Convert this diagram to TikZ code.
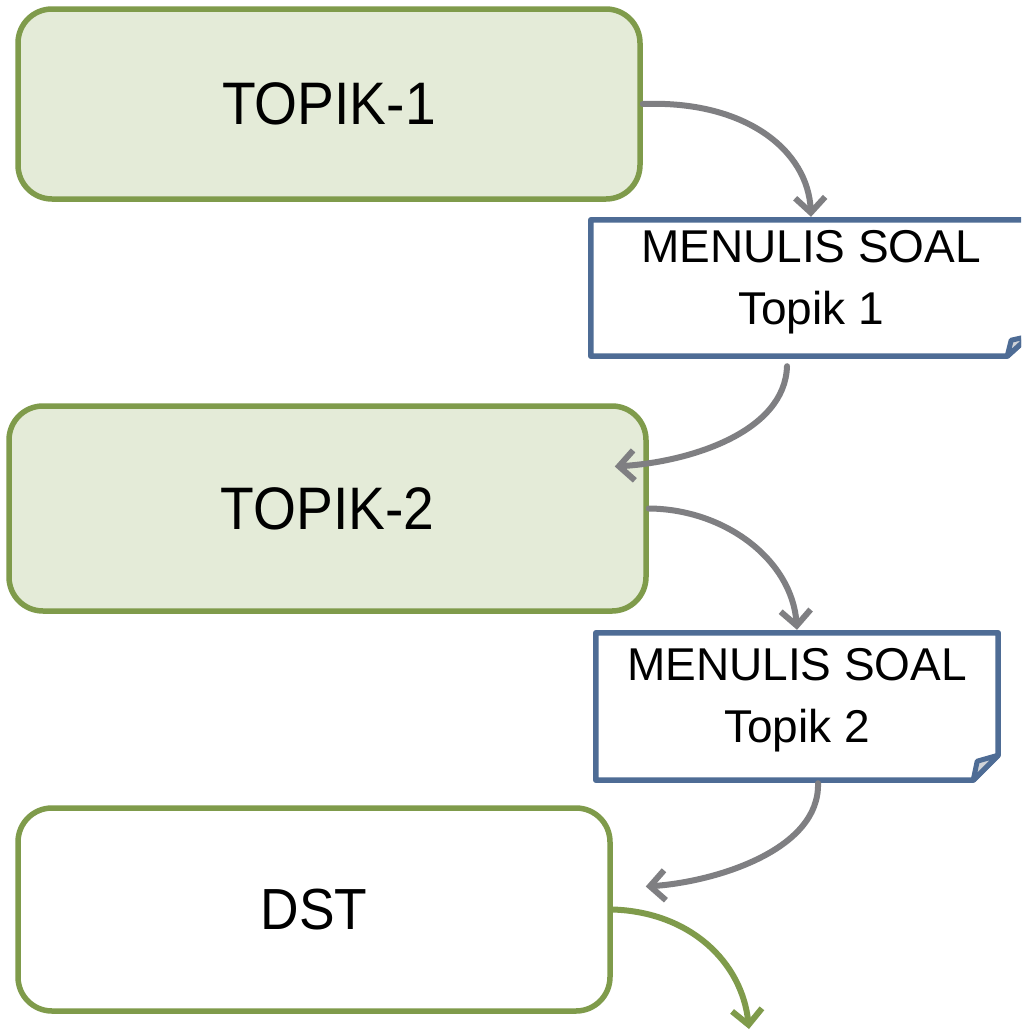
\documentclass[tikz,border=0pt]{standalone}
\usepackage{fontspec}
\setmainfont{Liberation Sans}
\newfontfamily\condfont[FakeStretch=0.92]{Liberation Sans}
\usetikzlibrary{arrows.meta,calc}
\definecolor{tgreen}{HTML}{7F9B4B}
\definecolor{tfill}{HTML}{E4EBD8}
\definecolor{dblue}{HTML}{4E6C95}
\definecolor{agray}{HTML}{7F7F82}
\definecolor{flapgray}{HTML}{D0D3D8}
\tikzset{
  topicbox/.style={draw=tgreen, line width=5.5pt, fill=tfill, rounded corners=34pt, inner sep=0pt, font=\condfont\fontsize{60}{60}\selectfont},
  endbox/.style={topicbox, fill=white, font=\condfont\fontsize{58}{58}\selectfont},
  docbox/.style={inner sep=0pt},
  doctext/.style={align=center, inner sep=0pt, font=\fontsize{46}{62}\selectfont},
  docline/.style={draw=dblue, line width=5.5pt, line join=round, fill=white},
  flap/.style={draw=dblue, line width=5pt, line join=round, fill=flapgray},
  grayarrow/.style={draw=agray, line width=6pt, -{Straight Barb[length=15pt,width=30pt,line width=6pt]}, line cap=round},
  greenarrow/.style={draw=tgreen, line width=6pt, -{Straight Barb[length=15pt,width=30pt,line width=6pt]}, line cap=round},
}
\begin{document}
\begin{tikzpicture}[x=1pt,y=-1pt]
\useasboundingbox (0,0) rectangle (1021,1034);
\clip (0,0) rectangle (1021,1034);
\fill[white] (0,0) rectangle (1021,1034);

% topic boxes
\node[topicbox, minimum width=622pt, minimum height=190pt] (t1) at (329,104) {TOPIK-1};
\node[topicbox, minimum width=637pt, minimum height=205pt] (t2) at (327.5,508.5) {TOPIK-2};
\node[endbox, minimum width=592pt, minimum height=203pt] (dst) at (314,909.5) {DST};

% document boxes
\node[docbox, minimum width=438pt, minimum height=136pt] (m1) at (810,288) {};
\draw[docline] (m1.north west) -- (m1.north east) -- ($(m1.south east)+(0,-20)$) -- ($(m1.south east)+(-22,0)$) -- (m1.south west) -- cycle;
\draw[flap] ($(m1.south east)+(-22,0)$) -- ($(m1.south east)+(-18,-16)$) -- ($(m1.south east)+(0,-20)$) -- cycle;
\node[doctext] (m1t) at (811,282) {MENULIS SOAL\\Topik 1};

\node[docbox, minimum width=402pt, minimum height=147pt] (m2) at (797,706.5) {};
\draw[docline] (m2.north west) -- (m2.north east) -- ($(m2.south east)+(0,-25)$) -- ($(m2.south east)+(-25,0)$) -- (m2.south west) -- cycle;
\draw[flap] ($(m2.south east)+(-25,0)$) -- ($(m2.south east)+(-21,-19)$) -- ($(m2.south east)+(0,-25)$) -- cycle;
\node[doctext] (m2t) at (797,700) {MENULIS SOAL\\Topik 2};

% connectors
\draw[grayarrow] (t1.east) .. controls (745,100) and (808,150) .. ($(m1.north)+(1,-3)$);
\draw[grayarrow] ($(m1.south)+(-23,10)$) .. controls (785,432) and (690,462) .. ($(t2.east)+(-34,-42)$);
\draw[grayarrow] (t2.east) .. controls (725,509) and (792,560) .. ($(m2.north)+(0,-3)$);
\draw[grayarrow] ($(m2.south)+(21,3)$) .. controls (820,850) and (715,882) .. ($(dst.east)+(33,-23)$);
\coordinate (out) at (749,1029);
\draw[greenarrow] (dst.east) .. controls (690,912) and (742,962) .. (out);
\end{tikzpicture}
\end{document}
